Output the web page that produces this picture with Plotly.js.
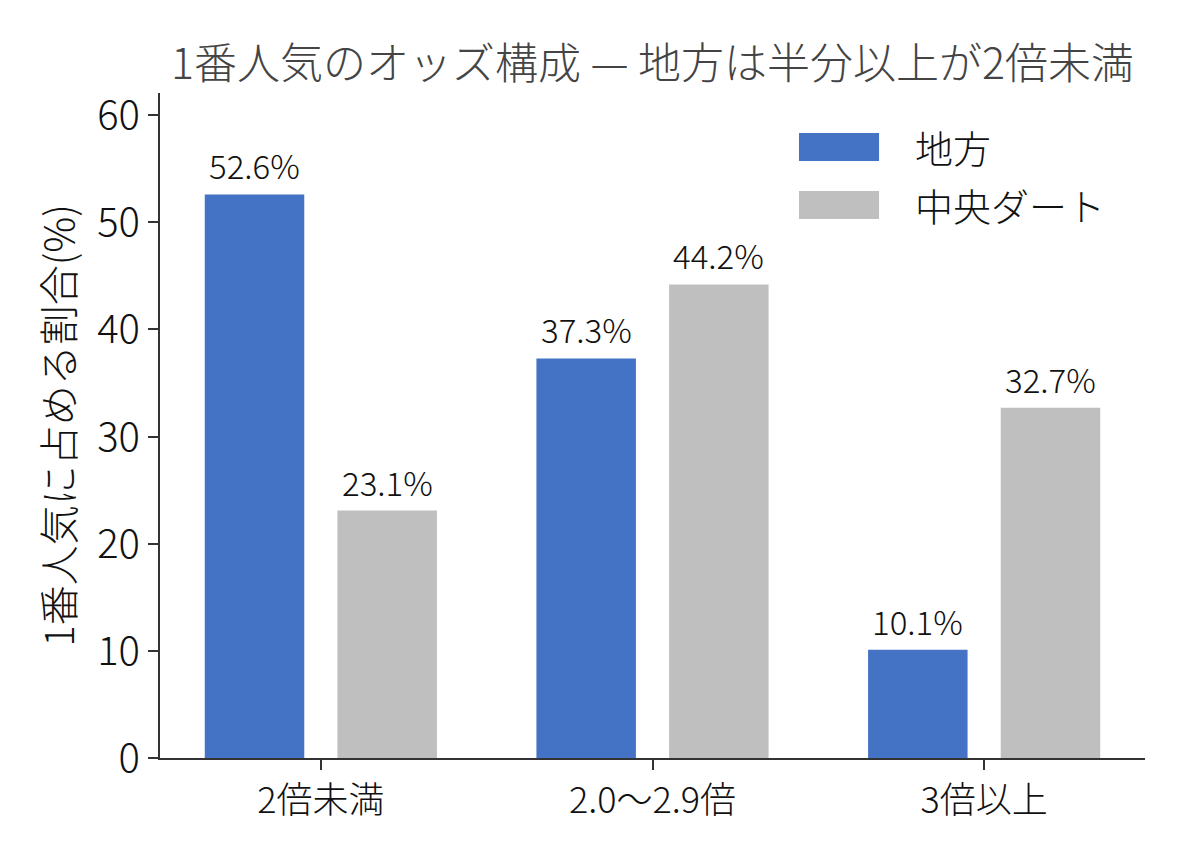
<!DOCTYPE html>
<html>
<head>
<meta charset="utf-8">
<script src="https://cdn.plot.ly/plotly-3.0.1.min.js"></script>
<style>
  body { margin: 0; background: #fff; }
  #chart { width: 1188px; height: 858px; }
</style>
</head>
<body>
<div id="chart"></div>
<script>
var categories = ['2倍未満', '2.0〜2.9倍', '3倍以上'];
var seriesNames = ['地方', '中央ダート'];
var chihou = [52.6, 37.3, 10.1];
var chuouDirt = [23.1, 44.2, 32.7];
var yTicks = [0, 10, 20, 30, 40, 50, 60];

var colors = ['#4472C4', '#BFBFBF'];
var font = '"Noto Sans CJK JP", "Noto Sans", sans-serif';
var lite = 300;

var trace1 = {
  x: categories,
  y: chihou,
  type: 'bar',
  name: seriesNames[0],
  width: 0.3,
  offset: -0.35,
  marker: { color: colors[0] },
  hoverinfo: 'none'
};

var trace2 = {
  x: categories,
  y: chuouDirt,
  type: 'bar',
  name: seriesNames[1],
  width: 0.3,
  offset: 0.05,
  marker: { color: colors[1] },
  hoverinfo: 'none'
};

// value labels above each bar
var annotations = [];
[chihou, chuouDirt].forEach(function(vals, s) {
  vals.forEach(function(v, i) {
    annotations.push({
      x: i + (s === 0 ? -0.2 : 0.2),
      y: v,
      xref: 'x', yref: 'y',
      text: v.toFixed(1) + '%',
      showarrow: false,
      yanchor: 'bottom',
      yshift: 3,
      font: { family: font, size: 33, color: '#111', weight: lite }
    });
  });
});

// legend drawn by hand so the swatches are wide like the original
var shapes = [];
var legendTop = [0.9398, 0.8526];
seriesNames.forEach(function(name, k) {
  shapes.push({
    type: 'rect', xref: 'paper', yref: 'paper',
    x0: 0.6487, x1: 0.730,
    y0: legendTop[k] - 0.042, y1: legendTop[k],
    fillcolor: colors[k], line: { width: 0 }
  });
  annotations.push({
    x: 0.7645, y: legendTop[k] - 0.021,
    xref: 'paper', yref: 'paper',
    xanchor: 'left', yanchor: 'middle',
    text: name, showarrow: false,
    font: { family: font, size: 38, color: '#111', weight: lite }
  });
});

var layout = {
  width: 1188,
  height: 858,
  margin: { l: 160, r: 43, t: 93, b: 100 },
  paper_bgcolor: '#fff',
  plot_bgcolor: '#fff',
  showlegend: false,
  barmode: 'group',
  font: { family: font, color: '#111' },
  title: {
    text: '1番人気のオッズ構成 — 地方は半分以上が2倍未満',
    x: 0.5, xref: 'paper',
    y: 0.926, yref: 'container', yanchor: 'middle',
    font: { family: font, size: 43, color: '#444', weight: lite }
  },
  xaxis: {
    type: 'category',
    range: [-0.485, 2.485],
    showline: true, linecolor: '#333', linewidth: 2,
    ticks: 'outside', ticklen: 10, tickwidth: 2, tickcolor: '#333',
    showgrid: false, zeroline: false,
    tickfont: { family: font, size: 36, color: '#111', weight: lite },
    automargin: false
  },
  yaxis: {
    range: [0, 62.07],
    tickvals: yTicks,
    showline: true, linecolor: '#333', linewidth: 2,
    ticks: 'outside', ticklen: 10, tickwidth: 2, tickcolor: '#333',
    showgrid: false, zeroline: false,
    tickfont: { family: font, size: 40, color: '#111', weight: lite },
    title: {
      text: '1番人気に占める割合(%)',
      standoff: 10,
      font: { family: font, size: 40, color: '#111', weight: lite }
    },
    automargin: false
  },
  annotations: annotations,
  shapes: shapes
};

Plotly.newPlot('chart', [trace1, trace2], layout, { displayModeBar: false, staticPlot: true });
</script>
</body>
</html>
